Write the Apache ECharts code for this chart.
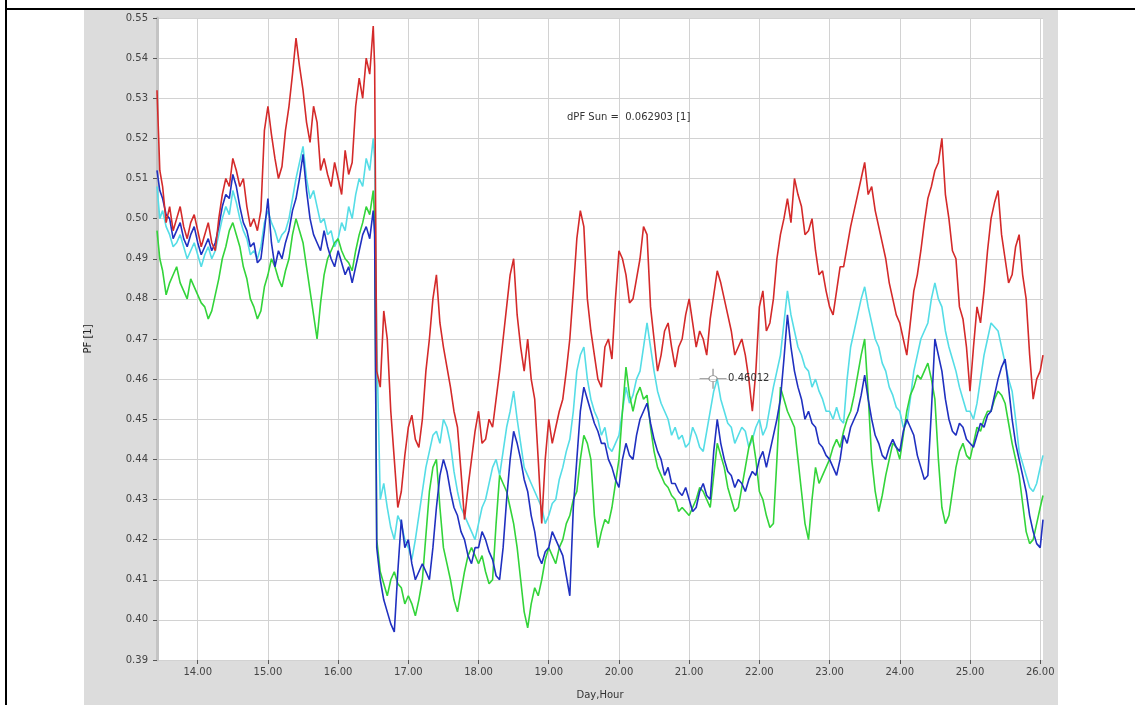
<!DOCTYPE html>
<html><head><meta charset="utf-8">
<script src="https://cdn.jsdelivr.net/npm/echarts@6/dist/echarts.min.js"></script>
<style>html,body{margin:0;padding:0;background:#fff;}#c{width:1135px;height:705px;}</style>
</head><body><div id="c"></div>
<script>
// sample positions, Day.Hour units
const times = [
13.42,13.46,13.5,13.55,13.6,13.65,13.7,13.75,13.8,13.85,13.9,13.95,
14.0,14.05,14.1,14.15,14.2,14.25,14.3,14.35,14.4,14.45,14.5,14.55,14.6,14.65,14.7,14.75,14.8,14.85,14.9,14.95,
15.0,15.05,15.1,15.15,15.2,15.25,15.3,15.35,15.4,15.45,15.5,15.55,15.6,15.65,15.7,15.75,15.8,15.85,15.9,15.95,
16.0,16.05,16.1,16.15,16.2,16.25,16.3,16.35,16.4,16.45,16.5,16.52,16.55,16.6,16.65,16.7,16.75,16.8,16.85,16.9,16.95,
17.0,17.05,17.1,17.15,17.2,17.25,17.3,17.35,17.4,17.45,17.5,17.55,17.6,17.65,17.7,17.75,17.8,17.85,17.9,17.95,
18.0,18.05,18.1,18.15,18.2,18.25,18.3,18.35,18.4,18.45,18.5,18.55,18.6,18.65,18.7,18.75,18.8,18.85,18.9,18.95,
19.0,19.05,19.1,19.15,19.2,19.25,19.3,19.35,19.4,19.45,19.5,19.55,19.6,19.65,19.7,19.75,19.8,19.85,19.9,19.95,
20.0,20.05,20.1,20.15,20.2,20.25,20.3,20.35,20.4,20.45,20.5,20.55,20.6,20.65,20.7,20.75,20.8,20.85,20.9,20.95,
21.0,21.05,21.1,21.15,21.2,21.25,21.3,21.35,21.4,21.45,21.5,21.55,21.6,21.65,21.7,21.75,21.8,21.85,21.9,21.95,
22.0,22.05,22.1,22.15,22.2,22.25,22.3,22.35,22.4,22.45,22.5,22.55,22.6,22.65,22.7,22.75,22.8,22.85,22.9,22.95,
23.0,23.05,23.1,23.15,23.2,23.25,23.3,23.35,23.4,23.45,23.5,23.55,23.6,23.65,23.7,23.75,23.8,23.85,23.9,23.95,
24.0,24.05,24.1,24.15,24.2,24.25,24.3,24.35,24.4,24.45,24.5,24.55,24.6,24.65,24.7,24.75,24.8,24.85,24.9,24.95,
25.0,25.05,25.1,25.15,25.2,25.25,25.3,25.35,25.4,25.45,25.5,25.55,25.6,25.65,25.7,25.75,25.8,25.85,25.9,25.95,
26.0,26.04];

const red = [
0.532,0.512,0.508,0.499,0.503,0.497,0.500,0.503,0.498,0.495,0.499,0.501,
0.497,0.493,0.496,0.499,0.494,0.492,0.500,0.506,0.510,0.508,0.515,0.512,0.508,0.510,0.503,0.498,0.500,0.497,0.502,0.522,
0.528,0.521,0.515,0.510,0.513,0.522,0.528,0.536,0.545,0.538,0.532,0.524,0.519,0.528,0.524,0.512,0.515,0.511,0.508,0.514,
0.510,0.506,0.517,0.511,0.514,0.528,0.535,0.530,0.540,0.536,0.548,0.538,0.462,0.458,0.477,0.470,0.452,0.440,0.428,0.432,0.441,
0.448,0.451,0.445,0.443,0.450,0.462,0.470,0.480,0.486,0.474,0.468,0.463,0.458,0.452,0.448,0.437,0.425,0.433,0.440,0.447,
0.452,0.444,0.445,0.450,0.448,0.455,0.462,0.470,0.478,0.486,0.490,0.476,0.468,0.462,0.470,0.460,0.455,0.440,0.424,0.440,
0.450,0.444,0.448,0.452,0.455,0.462,0.470,0.482,0.495,0.502,0.498,0.480,0.472,0.466,0.460,0.458,0.468,0.470,0.465,0.480,
0.492,0.490,0.486,0.479,0.480,0.485,0.490,0.498,0.496,0.478,0.470,0.462,0.466,0.472,0.474,0.468,0.463,0.468,0.470,0.476,
0.480,0.474,0.468,0.472,0.470,0.466,0.475,0.481,0.487,0.484,0.480,0.476,0.472,0.466,0.468,0.470,0.466,0.460,0.452,0.462,
0.478,0.482,0.472,0.474,0.480,0.490,0.496,0.500,0.505,0.499,0.510,0.506,0.503,0.496,0.497,0.500,0.492,0.486,0.487,0.482,
0.478,0.476,0.482,0.488,0.488,0.493,0.498,0.502,0.506,0.510,0.514,0.506,0.508,0.502,0.498,0.494,0.490,0.484,0.480,0.476,
0.474,0.470,0.466,0.474,0.482,0.486,0.492,0.499,0.505,0.508,0.512,0.514,0.520,0.506,0.500,0.492,0.490,0.478,0.475,0.468,
0.457,0.468,0.478,0.474,0.482,0.492,0.500,0.504,0.507,0.496,0.490,0.484,0.486,0.493,0.496,0.486,0.480,0.466,0.455,0.460,
0.462,0.466];

const cyan = [
0.508,0.500,0.502,0.498,0.496,0.493,0.494,0.496,0.493,0.490,0.492,0.494,
0.491,0.488,0.491,0.493,0.490,0.492,0.496,0.500,0.503,0.501,0.507,0.504,0.500,0.497,0.495,0.491,0.492,0.490,0.493,0.499,
0.502,0.499,0.497,0.494,0.496,0.497,0.500,0.505,0.510,0.514,0.518,0.510,0.505,0.507,0.503,0.499,0.500,0.496,0.497,0.493,
0.495,0.499,0.497,0.503,0.500,0.506,0.510,0.508,0.515,0.512,0.520,0.515,0.470,0.430,0.434,0.428,0.423,0.420,0.426,0.424,0.420,
0.418,0.415,0.420,0.426,0.432,0.438,0.442,0.446,0.447,0.444,0.450,0.448,0.444,0.437,0.432,0.428,0.426,0.424,0.422,0.420,
0.424,0.428,0.430,0.434,0.438,0.440,0.436,0.442,0.448,0.452,0.457,0.450,0.444,0.438,0.436,0.434,0.432,0.430,0.428,0.424,
0.426,0.429,0.430,0.435,0.438,0.442,0.445,0.452,0.462,0.466,0.468,0.460,0.455,0.452,0.450,0.446,0.448,0.443,0.442,0.444,
0.446,0.452,0.458,0.454,0.456,0.460,0.462,0.468,0.474,0.468,0.462,0.457,0.454,0.452,0.450,0.446,0.448,0.445,0.446,0.443,
0.444,0.448,0.446,0.443,0.442,0.447,0.452,0.457,0.460,0.455,0.452,0.449,0.448,0.444,0.446,0.448,0.447,0.443,0.445,0.448,
0.450,0.446,0.448,0.453,0.458,0.462,0.466,0.474,0.482,0.476,0.472,0.468,0.466,0.463,0.462,0.458,0.460,0.457,0.455,0.452,
0.452,0.450,0.453,0.450,0.449,0.460,0.468,0.472,0.476,0.480,0.483,0.478,0.474,0.470,0.468,0.464,0.462,0.458,0.456,0.453,
0.452,0.448,0.449,0.455,0.462,0.466,0.470,0.472,0.474,0.480,0.484,0.480,0.478,0.472,0.468,0.465,0.462,0.458,0.455,0.452,
0.452,0.450,0.454,0.460,0.466,0.470,0.474,0.473,0.472,0.468,0.464,0.460,0.457,0.450,0.442,0.439,0.436,0.433,0.432,0.434,
0.438,0.441];

const blue = [
0.512,0.507,0.505,0.501,0.500,0.495,0.497,0.499,0.495,0.493,0.496,0.498,
0.494,0.491,0.493,0.495,0.492,0.494,0.498,0.503,0.506,0.505,0.511,0.508,0.503,0.499,0.497,0.493,0.494,0.489,0.490,0.497,
0.505,0.494,0.488,0.492,0.490,0.494,0.497,0.502,0.505,0.510,0.516,0.507,0.500,0.496,0.494,0.492,0.497,0.493,0.490,0.488,
0.492,0.489,0.486,0.488,0.484,0.488,0.492,0.496,0.498,0.495,0.502,0.496,0.418,0.410,0.405,0.402,0.399,0.397,0.412,0.425,0.418,
0.420,0.414,0.410,0.412,0.414,0.412,0.410,0.418,0.428,0.436,0.440,0.437,0.432,0.428,0.426,0.422,0.420,0.416,0.414,0.418,
0.418,0.422,0.420,0.417,0.415,0.411,0.410,0.418,0.430,0.440,0.447,0.444,0.440,0.435,0.432,0.426,0.422,0.416,0.414,0.417,
0.418,0.422,0.420,0.418,0.416,0.411,0.406,0.428,0.440,0.452,0.458,0.455,0.452,0.449,0.447,0.444,0.444,0.440,0.438,0.435,
0.433,0.440,0.444,0.441,0.440,0.446,0.450,0.452,0.454,0.449,0.445,0.442,0.440,0.436,0.438,0.434,0.434,0.432,0.431,0.433,
0.430,0.427,0.428,0.432,0.434,0.431,0.430,0.442,0.450,0.444,0.440,0.437,0.436,0.433,0.435,0.434,0.432,0.435,0.437,0.436,
0.440,0.442,0.438,0.442,0.446,0.450,0.455,0.465,0.476,0.468,0.462,0.458,0.455,0.450,0.452,0.449,0.448,0.444,0.443,0.441,
0.440,0.438,0.436,0.440,0.446,0.444,0.448,0.450,0.452,0.456,0.461,0.455,0.450,0.446,0.444,0.441,0.440,0.443,0.445,0.443,
0.442,0.447,0.450,0.448,0.446,0.441,0.438,0.435,0.436,0.452,0.470,0.466,0.462,0.455,0.450,0.447,0.446,0.449,0.448,0.445,
0.444,0.443,0.446,0.449,0.448,0.451,0.452,0.456,0.460,0.463,0.465,0.458,0.450,0.444,0.440,0.436,0.432,0.426,0.422,0.419,
0.418,0.425];

const green = [
0.497,0.490,0.487,0.481,0.484,0.486,0.488,0.484,0.482,0.480,0.485,0.483,
0.481,0.479,0.478,0.475,0.477,0.481,0.485,0.490,0.493,0.497,0.499,0.496,0.493,0.488,0.485,0.480,0.478,0.475,0.477,0.483,
0.486,0.490,0.488,0.485,0.483,0.487,0.490,0.496,0.500,0.497,0.494,0.488,0.482,0.476,0.470,0.479,0.486,0.490,0.492,0.494,
0.495,0.492,0.490,0.489,0.487,0.492,0.496,0.499,0.503,0.501,0.507,0.500,0.420,0.412,0.409,0.406,0.410,0.412,0.409,0.408,0.404,
0.406,0.404,0.401,0.405,0.410,0.421,0.432,0.438,0.440,0.428,0.418,0.414,0.410,0.405,0.402,0.407,0.412,0.416,0.418,0.416,
0.414,0.416,0.412,0.409,0.410,0.424,0.436,0.434,0.432,0.428,0.424,0.418,0.410,0.402,0.398,0.404,0.408,0.406,0.410,0.415,
0.418,0.416,0.414,0.418,0.420,0.424,0.426,0.430,0.432,0.440,0.446,0.444,0.440,0.426,0.418,0.422,0.425,0.424,0.428,0.434,
0.440,0.452,0.463,0.456,0.452,0.456,0.458,0.455,0.456,0.448,0.442,0.438,0.436,0.434,0.433,0.431,0.430,0.427,0.428,0.427,
0.426,0.428,0.430,0.433,0.432,0.430,0.428,0.436,0.444,0.441,0.438,0.433,0.430,0.427,0.428,0.433,0.438,0.443,0.446,0.440,
0.432,0.430,0.426,0.423,0.424,0.440,0.458,0.455,0.452,0.450,0.448,0.440,0.432,0.424,0.420,0.430,0.438,0.434,0.436,0.438,
0.440,0.443,0.445,0.443,0.447,0.450,0.452,0.456,0.461,0.466,0.470,0.456,0.440,0.432,0.427,0.431,0.436,0.440,0.444,0.443,
0.440,0.446,0.452,0.456,0.458,0.461,0.460,0.462,0.464,0.460,0.455,0.440,0.428,0.424,0.426,0.432,0.438,0.442,0.444,0.441,
0.440,0.444,0.448,0.447,0.450,0.452,0.452,0.455,0.457,0.456,0.454,0.449,0.444,0.440,0.436,0.429,0.422,0.419,0.420,0.424,
0.428,0.431];

const xTicks = [14,15,16,17,18,19,20,21,22,23,24,25,26];
const xRange = [13.42, 26.04];
const yRange = [0.39, 0.55];
const yStep = 0.01;
const annotation = 'dPF Sun =  0.062903 [1]';
const cursor = {x: 21.34, y: 0.46012, label: '0.46012'};
const xName = 'Day,Hour';
const yName = 'PF [1]';

const FONT = 'DejaVu Sans';
function pairs(vals){ return vals.map((v,i)=>[times[i], v]); }

const chart = echarts.init(document.getElementById('c'), null, {renderer:'canvas'});
const lineSeries = (name, data, color) => ({
  name, type:'line', data: pairs(data), symbol:'none', showSymbol:false,
  sampling: null, animation:false,
  lineStyle:{color, width:1.6}, itemStyle:{color}
});

const cyanSeries = lineSeries('cyan', cyan, '#55dde6');
cyanSeries.markPoint = {
  symbol: 'path://M0,10L7,10M13,10L20,10M10,0L10,7M10,13L10,20M13,10A3,3,0,1,1,7,10A3,3,0,1,1,13,10',
  symbolSize: [27, 20],
  itemStyle: {color:'rgba(0,0,0,0)', borderColor:'#8a8a8a', borderWidth:1},
  label: {show:true, position:'right', distance:1, formatter: cursor.label, color:'#333', fontSize:10, fontFamily:FONT},
  data: [{coord:[cursor.x, cursor.y]}],
  z: 20
};

chart.setOption({
  animation:false,
  backgroundColor:'#ffffff',
  title:{text: annotation, left:567, top:112, padding:0,
    textStyle:{fontSize:10, fontWeight:'normal', color:'#333', fontFamily:FONT}},
  graphic:[
    {type:'rect', shape:{x:84, y:10, width:974, height:695}, style:{fill:'#dcdcdc'}, z:-10, silent:true},
    {type:'line', shape:{x1:6, y1:9, x2:1135, y2:9}, style:{stroke:'#000', lineWidth:2}, z:100, silent:true},
    {type:'line', shape:{x1:6, y1:0, x2:6, y2:705}, style:{stroke:'#000', lineWidth:2}, z:100, silent:true}
  ],
  grid:{left:157, right:92, top:18, bottom:42, show:true, backgroundColor:'#ffffff', borderWidth:0},
  xAxis:{
    type:'value', min:xRange[0], max:xRange[1],
    name:xName, nameLocation:'middle', nameGap:30,
    nameTextStyle:{fontSize:10, color:'#333', fontFamily:FONT},
    axisLine:{show:false},
    axisTick:{show:true, length:4, customValues:xTicks, lineStyle:{color:'#555'}},
    axisLabel:{customValues:xTicks, formatter:v=>Number(v).toFixed(2), fontSize:10, color:'#444', margin:7, fontFamily:FONT},
    splitLine:{show:true, lineStyle:{color:'#d2d2d2', width:1}}
  },
  yAxis:{
    type:'value', min:yRange[0], max:yRange[1], interval:yStep,
    name:yName, nameLocation:'middle', nameGap:64, nameRotate:90,
    nameTextStyle:{fontSize:10, color:'#222', fontFamily:FONT},
    axisLine:{show:true, lineStyle:{color:'#c4c4c4', width:3}},
    axisTick:{show:true, length:4, lineStyle:{color:'#555'}},
    axisLabel:{formatter:v=>Number(v).toFixed(2), fontSize:10, color:'#444', margin:9, fontFamily:FONT},
    splitLine:{show:true, lineStyle:{color:'#d2d2d2', width:1}}
  },
  series:[
    cyanSeries,
    lineSeries('green', green, '#33d43a'),
    lineSeries('blue', blue, '#2030c0'),
    lineSeries('red', red, '#d42a2a')
  ]
});
</script>
</body></html>
